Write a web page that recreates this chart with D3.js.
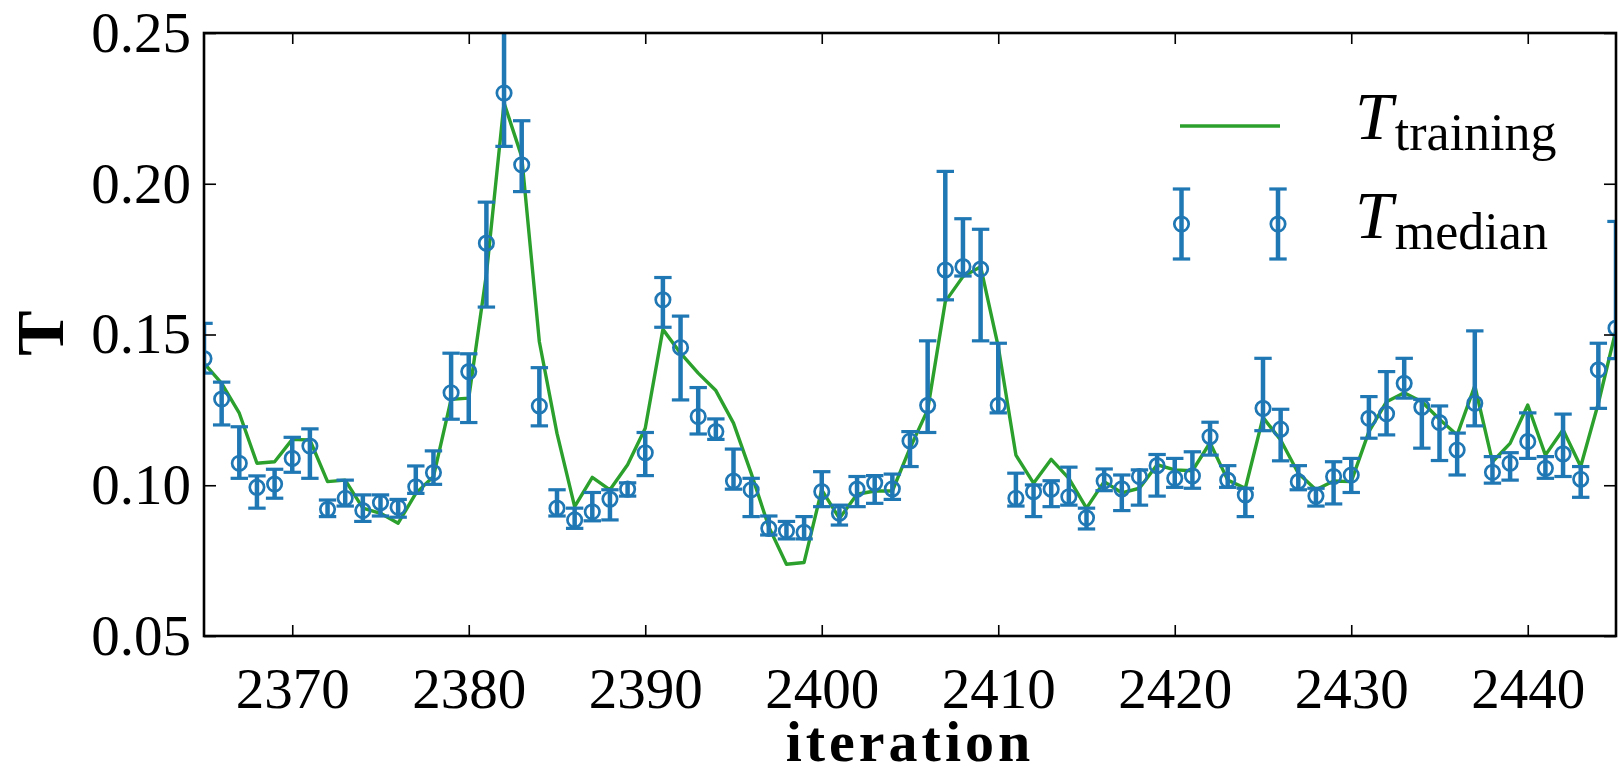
<!DOCTYPE html>
<html>
<head>
  <meta charset="utf-8">
  <style type="text/css">
    body { margin: 0; background: #fff; }
    svg text { font-family: "Liberation Serif", "DejaVu Serif", serif; }
  </style>
  <script src="https://d3js.org/d3.v7.min.js"></script>
</head>
<body>
  <div id="chart"></div>
  <script type="text/javascript">
    // values
    var iterations = [2365, 2366, 2367, 2368, 2369, 2370, 2371, 2372, 2373, 2374,
      2375, 2376, 2377, 2378, 2379, 2380, 2381, 2382, 2383, 2384,
      2385, 2386, 2387, 2388, 2389, 2390, 2391, 2392, 2393, 2394,
      2395, 2396, 2397, 2398, 2399, 2400, 2401, 2402, 2403, 2404,
      2405, 2406, 2407, 2408, 2409, 2410, 2411, 2412, 2413, 2414,
      2415, 2416, 2417, 2418, 2419, 2420, 2421, 2422, 2423, 2424,
      2425, 2426, 2427, 2428, 2429, 2430, 2431, 2432, 2433, 2434,
      2435, 2436, 2437, 2438, 2439, 2440, 2441, 2442, 2443, 2444, 2445];

    var tTraining = [0.1405, 0.1338, 0.1239, 0.1073, 0.1078, 0.1152, 0.1150, 0.1012, 0.1017, 0.0924,
      0.0907, 0.0874, 0.0973, 0.1029, 0.1285, 0.1289, 0.1700, 0.2268, 0.2090, 0.1476,
      0.1172, 0.0929, 0.1026, 0.0985, 0.1068, 0.1189, 0.1517, 0.1438, 0.1372, 0.1314,
      0.1206, 0.1040, 0.0862, 0.0738, 0.0744, 0.0985, 0.0890, 0.0970, 0.0981, 0.0981,
      0.1123, 0.1250, 0.1609, 0.1692, 0.1725, 0.1460, 0.1100, 0.1007, 0.1086, 0.1023,
      0.0924, 0.1012, 0.0975, 0.0990, 0.1068, 0.1051, 0.1048, 0.1141, 0.1017, 0.0990,
      0.1225, 0.1150, 0.1040, 0.0985, 0.1014, 0.1012, 0.1178, 0.1277, 0.1307, 0.1277,
      0.1219, 0.1167, 0.1330, 0.1078, 0.1139, 0.1266, 0.1100, 0.1184, 0.1062, 0.1272, 0.1515];

    var tMedian = [0.1420, 0.1286, 0.1073, 0.0993, 0.1004, 0.1089, 0.1130, 0.0920, 0.0957, 0.0916,
      0.0942, 0.0927, 0.0995, 0.1042, 0.1307, 0.1377, 0.1803, 0.2301, 0.2063, 0.1263,
      0.0924, 0.0885, 0.0912, 0.0954, 0.0987, 0.1108, 0.1615, 0.1457, 0.1228, 0.1178,
      0.1014, 0.0985, 0.0857, 0.0849, 0.0844, 0.0979, 0.0907, 0.0987, 0.1008, 0.0988,
      0.1147, 0.1265, 0.1714, 0.1725, 0.1717, 0.1265, 0.0957, 0.0979, 0.0987, 0.0962,
      0.0892, 0.1014, 0.0988, 0.1029, 0.1065, 0.1023, 0.1031, 0.1161, 0.1017, 0.0968,
      0.1255, 0.1186, 0.1012, 0.0964, 0.1029, 0.1034, 0.1222, 0.1237, 0.1338, 0.1259,
      0.1208, 0.1117, 0.1272, 0.1043, 0.1073, 0.1145, 0.1056, 0.1104, 0.1020, 0.1383, 0.1521];

    var tUpper = [0.1537, 0.1342, 0.1194, 0.1031, 0.1053, 0.1159, 0.1187, 0.0951, 0.1017, 0.0968,
      0.0968, 0.0953, 0.1064, 0.1114, 0.1438, 0.1436, 0.1939, 0.2550, 0.2209, 0.1390,
      0.0985, 0.0924, 0.0976, 0.0985, 0.1008, 0.1175, 0.1689, 0.1561, 0.1324, 0.1220,
      0.1120, 0.1023, 0.0898, 0.0880, 0.0896, 0.1045, 0.0934, 0.1029, 0.1032, 0.1037,
      0.1178, 0.1479, 0.2041, 0.1884, 0.1849, 0.1471, 0.1040, 0.1001, 0.1015, 0.1060,
      0.0924, 0.1054, 0.1034, 0.1051, 0.1102, 0.1089, 0.1111, 0.1209, 0.1065, 0.0990,
      0.1421, 0.1252, 0.1065, 0.0990, 0.1078, 0.1089, 0.1294, 0.1377, 0.1421, 0.1285,
      0.1263, 0.1173, 0.1512, 0.1095, 0.1108, 0.1240, 0.1095, 0.1236, 0.1062, 0.1471, 0.1875];

    var tLower = [0.1372, 0.1200, 0.1023, 0.0924, 0.0957, 0.1043, 0.1023, 0.0896, 0.0931, 0.0880,
      0.0898, 0.0894, 0.0973, 0.1003, 0.1219, 0.1208, 0.1591, 0.2124, 0.1974, 0.1197,
      0.0898, 0.0857, 0.0882, 0.0885, 0.0964, 0.1032, 0.1524, 0.1283, 0.1170, 0.1152,
      0.0987, 0.0896, 0.0835, 0.0822, 0.0822, 0.0929, 0.0868, 0.0929, 0.0940, 0.0953,
      0.1062, 0.1175, 0.1615, 0.1694, 0.1479, 0.1240, 0.0931, 0.0896, 0.0929, 0.0934,
      0.0855, 0.0982, 0.0916, 0.0934, 0.0964, 0.0993, 0.0990, 0.1100, 0.0993, 0.0896,
      0.1181, 0.1081, 0.0985, 0.0931, 0.0938, 0.0976, 0.1156, 0.1167, 0.1289, 0.1123,
      0.1082, 0.1034, 0.1197, 0.1007, 0.1017, 0.1089, 0.1023, 0.1029, 0.0960, 0.1255, 0.1420];

    var xTicks = [2370, 2380, 2390, 2400, 2410, 2420, 2430, 2440];
    var yTicks = [0.05, 0.10, 0.15, 0.20, 0.25];

    var green = "#2ca02c",
        blue = "#1f77b4";

    var W = 1618, H = 774;
    var margin = {top: 33, right: 2, bottom: 138, left: 204};
    var width = W - margin.left - margin.right,
        height = H - margin.top - margin.bottom;

    var svg = d3.select("#chart").append("svg")
        .attr("width", W)
        .attr("height", H);

    var g = svg.append("g")
        .attr("transform", "translate(" + margin.left + "," + margin.top + ")");

    var x = d3.scaleLinear().domain([2365, 2445]).range([0, width]);
    var y = d3.scaleLinear().domain([0.05, 0.25]).range([height, 0]);

    g.append("clipPath").attr("id", "clip")
      .append("rect").attr("width", width).attr("height", height);

    var plot = g.append("g").attr("clip-path", "url(#clip)");

    // training curve
    var line = d3.line()
        .x(function(d, i) { return x(iterations[i]); })
        .y(function(d) { return y(d); });

    plot.append("path")
        .datum(tTraining)
        .attr("d", line)
        .attr("fill", "none")
        .attr("stroke", green)
        .attr("stroke-width", 3.4)
        .attr("stroke-linejoin", "round");

    // median with error bars
    var capW = 8.7;
    var pts = plot.selectAll("g.pt")
        .data(iterations)
      .enter().append("g")
        .attr("class", "pt");

    pts.append("line")
        .attr("x1", function(d) { return x(d); })
        .attr("x2", function(d) { return x(d); })
        .attr("y1", function(d, i) { return y(tUpper[i]); })
        .attr("y2", function(d, i) { return y(tLower[i]); })
        .attr("stroke", blue).attr("stroke-width", 4.5);

    pts.selectAll("line.cap")
        .data(function(d, i) { return [[d, tUpper[i]], [d, tLower[i]]]; })
      .enter().append("line")
        .attr("class", "cap")
        .attr("x1", function(d) { return x(d[0]) - capW; })
        .attr("x2", function(d) { return x(d[0]) + capW; })
        .attr("y1", function(d) { return y(d[1]); })
        .attr("y2", function(d) { return y(d[1]); })
        .attr("stroke", blue).attr("stroke-width", 3.2);

    pts.append("circle")
        .attr("cx", function(d) { return x(d); })
        .attr("cy", function(d, i) { return y(tMedian[i]); })
        .attr("r", 7.2)
        .attr("fill", "none")
        .attr("stroke", blue).attr("stroke-width", 2.7);

    // axes, ticks pointing inwards on all four sides
    function styleAxis(sel) {
      sel.select(".domain").remove();
      sel.selectAll(".tick line").attr("stroke", "#000").attr("stroke-width", 1.6);
      sel.selectAll(".tick text").attr("fill", "#000").style("font-size", "57px");
    }

    g.append("g")
        .attr("transform", "translate(0," + height + ")")
        .call(d3.axisBottom(x).tickValues(xTicks).tickSize(-11).tickPadding(32).tickFormat(d3.format("d")))
        .call(styleAxis);

    g.append("g")
        .call(d3.axisTop(x).tickValues(xTicks).tickSize(-11).tickFormat(""))
        .call(styleAxis);

    g.append("g")
        .call(d3.axisLeft(y).tickValues(yTicks).tickSize(-12).tickPadding(13).tickFormat(d3.format(".2f")))
        .call(styleAxis);

    g.append("g")
        .attr("transform", "translate(" + width + ",0)")
        .call(d3.axisRight(y).tickValues(yTicks).tickSize(-12).tickFormat(""))
        .call(styleAxis);

    g.append("rect")
        .attr("width", width).attr("height", height)
        .attr("fill", "none")
        .attr("stroke", "#000").attr("stroke-width", 2.6);

    // axis titles
    svg.append("text")
        .attr("x", margin.left + width / 2)
        .attr("y", 761)
        .attr("text-anchor", "middle")
        .style("font-size", "58px").style("font-weight", "bold")
        .style("letter-spacing", "4px")
        .text("iteration");

    svg.append("text")
        .attr("transform", "translate(63," + (margin.top + 300) + ") rotate(-90)")
        .attr("text-anchor", "middle")
        .style("font-size", "68px").style("font-weight", "bold")
        .text("T");

    // legend
    var leg = svg.append("g");
    leg.append("line")
        .attr("x1", 1180).attr("x2", 1280)
        .attr("y1", 126).attr("y2", 126)
        .attr("stroke", green).attr("stroke-width", 3.4);

    [1181.5, 1278].forEach(function(cx) {
      leg.append("line").attr("x1", cx).attr("x2", cx).attr("y1", 189).attr("y2", 259)
          .attr("stroke", blue).attr("stroke-width", 4.5);
      leg.append("line").attr("x1", cx - capW).attr("x2", cx + capW).attr("y1", 189).attr("y2", 189)
          .attr("stroke", blue).attr("stroke-width", 3.2);
      leg.append("line").attr("x1", cx - capW).attr("x2", cx + capW).attr("y1", 259).attr("y2", 259)
          .attr("stroke", blue).attr("stroke-width", 3.2);
      leg.append("circle").attr("cx", cx).attr("cy", 224).attr("r", 7.2)
          .attr("fill", "none").attr("stroke", blue).attr("stroke-width", 2.7);
    });

    function legendLabel(yBase, sub) {
      var t = leg.append("text").attr("x", 1355).attr("y", yBase);
      t.append("tspan").style("font-size", "68px").style("font-style", "italic").text("T");
      t.append("tspan").attr("dy", 11).attr("dx", 2).style("font-size", "52px").text(sub);
    }
    legendLabel(139, "training");
    legendLabel(238, "median");
  </script>
</body>
</html>
